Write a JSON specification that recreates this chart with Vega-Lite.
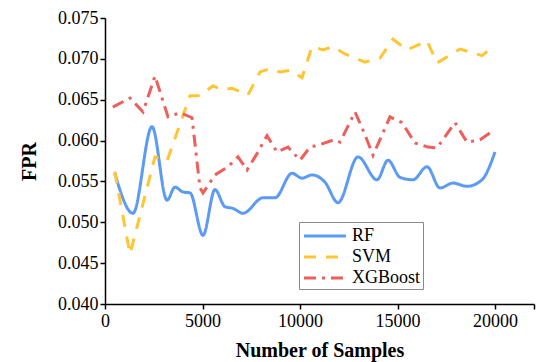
{
  "$schema": "https://vega.github.io/schema/vega-lite/v6.json",
  "width": 429,
  "height": 286,
  "autosize": {"type": "none"},
  "padding": {"left": 105, "top": 18, "right": 3, "bottom": 58},
  "background": "white",
  "config": {
    "view": {"stroke": null},
    "font": "Liberation Serif",
    "axis": {
      "domainColor": "black", "domainWidth": 1.5, "tickColor": "black", "tickWidth": 1.5,
      "tickSize": 5, "labelColor": "black", "labelFont": "Liberation Serif", "labelFontSize": 18,
      "titleFont": "Liberation Serif", "titleFontSize": 20, "titleFontWeight": "bold", "titleColor": "black",
      "grid": false
    }
  },
  "data": {"values": [
    {"model": "RF", "samples": 500, "fpr": 0.0560},
    {"model": "RF", "samples": 1436, "fpr": 0.0511},
    {"model": "RF", "samples": 2410, "fpr": 0.0617},
    {"model": "RF", "samples": 3180, "fpr": 0.0527},
    {"model": "RF", "samples": 3590, "fpr": 0.0543},
    {"model": "RF", "samples": 4000, "fpr": 0.0537},
    {"model": "RF", "samples": 4359, "fpr": 0.0536},
    {"model": "RF", "samples": 5026, "fpr": 0.0484},
    {"model": "RF", "samples": 5641, "fpr": 0.0540},
    {"model": "RF", "samples": 6154, "fpr": 0.0519},
    {"model": "RF", "samples": 6564, "fpr": 0.0517},
    {"model": "RF", "samples": 7077, "fpr": 0.0511},
    {"model": "RF", "samples": 8103, "fpr": 0.0530},
    {"model": "RF", "samples": 8718, "fpr": 0.0530},
    {"model": "RF", "samples": 9590, "fpr": 0.0560},
    {"model": "RF", "samples": 10103, "fpr": 0.0554},
    {"model": "RF", "samples": 10615, "fpr": 0.0558},
    {"model": "RF", "samples": 11282, "fpr": 0.0549},
    {"model": "RF", "samples": 11949, "fpr": 0.0524},
    {"model": "RF", "samples": 12974, "fpr": 0.0580},
    {"model": "RF", "samples": 13949, "fpr": 0.0552},
    {"model": "RF", "samples": 14513, "fpr": 0.0576},
    {"model": "RF", "samples": 15128, "fpr": 0.0555},
    {"model": "RF", "samples": 15795, "fpr": 0.0552},
    {"model": "RF", "samples": 16513, "fpr": 0.0568},
    {"model": "RF", "samples": 17179, "fpr": 0.0542},
    {"model": "RF", "samples": 17846, "fpr": 0.0548},
    {"model": "RF", "samples": 18564, "fpr": 0.0544},
    {"model": "RF", "samples": 19333, "fpr": 0.0552},
    {"model": "RF", "samples": 20000, "fpr": 0.0586},
    {"model": "SVM", "samples": 500, "fpr": 0.0562},
    {"model": "SVM", "samples": 1282, "fpr": 0.0461},
    {"model": "SVM", "samples": 2564, "fpr": 0.0580},
    {"model": "SVM", "samples": 3180, "fpr": 0.0575},
    {"model": "SVM", "samples": 4359, "fpr": 0.0655},
    {"model": "SVM", "samples": 4872, "fpr": 0.0655},
    {"model": "SVM", "samples": 5538, "fpr": 0.0667},
    {"model": "SVM", "samples": 6000, "fpr": 0.0662},
    {"model": "SVM", "samples": 6513, "fpr": 0.0664},
    {"model": "SVM", "samples": 7333, "fpr": 0.0656},
    {"model": "SVM", "samples": 7949, "fpr": 0.0684},
    {"model": "SVM", "samples": 8462, "fpr": 0.0688},
    {"model": "SVM", "samples": 8974, "fpr": 0.0684},
    {"model": "SVM", "samples": 9487, "fpr": 0.0686},
    {"model": "SVM", "samples": 10103, "fpr": 0.0677},
    {"model": "SVM", "samples": 10615, "fpr": 0.0715},
    {"model": "SVM", "samples": 11179, "fpr": 0.0711},
    {"model": "SVM", "samples": 11692, "fpr": 0.0715},
    {"model": "SVM", "samples": 12308, "fpr": 0.0706},
    {"model": "SVM", "samples": 13333, "fpr": 0.0696},
    {"model": "SVM", "samples": 14103, "fpr": 0.0701},
    {"model": "SVM", "samples": 14769, "fpr": 0.0724},
    {"model": "SVM", "samples": 15487, "fpr": 0.0711},
    {"model": "SVM", "samples": 16513, "fpr": 0.0722},
    {"model": "SVM", "samples": 17026, "fpr": 0.0695},
    {"model": "SVM", "samples": 18205, "fpr": 0.0712},
    {"model": "SVM", "samples": 19333, "fpr": 0.0704},
    {"model": "SVM", "samples": 19949, "fpr": 0.0716},
    {"model": "XGBoost", "samples": 400, "fpr": 0.0641},
    {"model": "XGBoost", "samples": 1282, "fpr": 0.0652},
    {"model": "XGBoost", "samples": 1949, "fpr": 0.0635},
    {"model": "XGBoost", "samples": 2564, "fpr": 0.0679},
    {"model": "XGBoost", "samples": 3231, "fpr": 0.0629},
    {"model": "XGBoost", "samples": 3846, "fpr": 0.0634},
    {"model": "XGBoost", "samples": 4462, "fpr": 0.0628},
    {"model": "XGBoost", "samples": 4872, "fpr": 0.0542},
    {"model": "XGBoost", "samples": 5026, "fpr": 0.0536},
    {"model": "XGBoost", "samples": 5641, "fpr": 0.0558},
    {"model": "XGBoost", "samples": 6308, "fpr": 0.0568},
    {"model": "XGBoost", "samples": 6821, "fpr": 0.0580},
    {"model": "XGBoost", "samples": 7282, "fpr": 0.0564},
    {"model": "XGBoost", "samples": 7795, "fpr": 0.0584},
    {"model": "XGBoost", "samples": 8308, "fpr": 0.0606},
    {"model": "XGBoost", "samples": 8821, "fpr": 0.0586},
    {"model": "XGBoost", "samples": 9385, "fpr": 0.0592},
    {"model": "XGBoost", "samples": 10000, "fpr": 0.0576},
    {"model": "XGBoost", "samples": 10513, "fpr": 0.0592},
    {"model": "XGBoost", "samples": 11026, "fpr": 0.0595},
    {"model": "XGBoost", "samples": 11744, "fpr": 0.0601},
    {"model": "XGBoost", "samples": 12051, "fpr": 0.0598},
    {"model": "XGBoost", "samples": 12821, "fpr": 0.0635},
    {"model": "XGBoost", "samples": 13333, "fpr": 0.0607},
    {"model": "XGBoost", "samples": 13744, "fpr": 0.0582},
    {"model": "XGBoost", "samples": 14615, "fpr": 0.0629},
    {"model": "XGBoost", "samples": 15231, "fpr": 0.0622},
    {"model": "XGBoost", "samples": 15897, "fpr": 0.0597},
    {"model": "XGBoost", "samples": 16564, "fpr": 0.0592},
    {"model": "XGBoost", "samples": 17026, "fpr": 0.0591},
    {"model": "XGBoost", "samples": 17949, "fpr": 0.0622},
    {"model": "XGBoost", "samples": 18564, "fpr": 0.0598},
    {"model": "XGBoost", "samples": 19231, "fpr": 0.0601},
    {"model": "XGBoost", "samples": 19949, "fpr": 0.0613}
  ]},
  "encoding": {
    "x": {"field": "samples", "type": "quantitative",
      "scale": {"domain": [0, 22000], "nice": false},
      "axis": {"title": "Number of Samples", "values": [0, 5000, 10000, 15000, 20000, 22000], "format": "d",
        "labelExpr": "datum.value == 22000 ? '' : datum.label", "labelFont": "Liberation Serif", "labelPadding": 3, "titlePadding": 10, "labelFlush": false}},
    "y": {"field": "fpr", "type": "quantitative",
      "scale": {"domain": [0.04, 0.075], "nice": false, "zero": false},
      "axis": {"title": "FPR", "values": [0.04, 0.045, 0.05, 0.055, 0.06, 0.065, 0.07, 0.075], "format": ".3f",
        "labelFont": "Liberation Serif", "labelPadding": 2, "titlePadding": 18, "labelFlush": false}},
    "color": {"field": "model", "type": "nominal",
      "scale": {"domain": ["RF", "SVM", "XGBoost"], "range": ["#5B9BF5", "#FFC532", "#EE5F5B"]},
      "legend": {"title": null, "orient": "none", "legendX": 194, "legendY": 204,
        "symbolType": "M-2,0L2,0", "symbolSize": 441, "symbolStrokeWidth": 3, "symbolOffset": 12,
        "labelFont": "Liberation Serif", "labelFontSize": 18, "labelColor": "black", "labelOffset": 15,
        "padding": 2, "rowPadding": 0, "strokeColor": "#888888", "fillColor": "white", "symbolFillColor": "transparent"}},
    "strokeDash": {"field": "model", "type": "nominal",
      "scale": {"domain": ["RF", "SVM", "XGBoost"], "range": [[1, 0], [12, 10], [12, 6, 3, 6]]},
      "legend": null}
  },
  "layer": [
    {"transform": [{"filter": "datum.model == 'RF'"}], "mark": {"type": "line", "strokeWidth": 3, "interpolate": "monotone"}},
    {"transform": [{"filter": "datum.model != 'RF'"}], "mark": {"type": "line", "strokeWidth": 3}}
  ]
}
